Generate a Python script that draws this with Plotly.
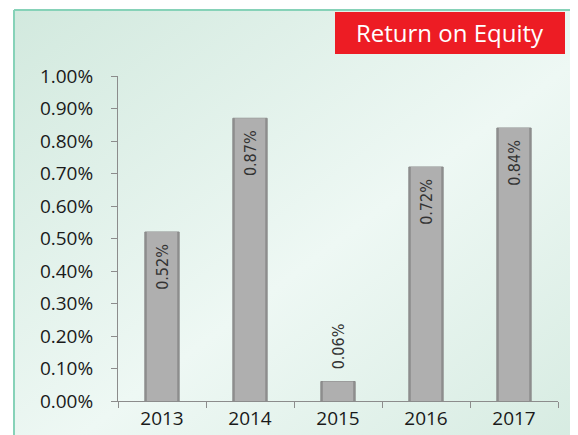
import base64
import plotly.graph_objects as go

years = ["2013", "2014", "2015", "2016", "2017"]
roe = [0.52, 0.87, 0.06, 0.72, 0.84]
labels = ["0.52%", "0.87%", "0.06%", "0.72%", "0.84%"]
label_pos = ["inside", "inside", "outside", "inside", "inside"]
ytick_vals = [0.0, 0.1, 0.2, 0.3, 0.4, 0.5, 0.6, 0.7, 0.8, 0.9, 1.0]
ytick_text = ["%.2f%%" % v for v in ytick_vals]
title_text = "Return on Equity"

OFF = 8  # page body margin
W, H = 570, 427
L, R, T, B = 110, 20, 68, 34
pw, ph = W - L - R, H - T - B


def px(x):  # window x -> paper
    return (x - OFF - L) / pw


def py(y):  # window y -> paper
    return (H - B - (y - OFF)) / ph


svg = (
    '<svg xmlns="http://www.w3.org/2000/svg" width="578" height="435">'
    '<defs><linearGradient id="g" x1="0" y1="0" x2="1" y2="1">'
    '<stop offset="0" stop-color="#d2e9de"/>'
    '<stop offset="0.55" stop-color="#eef8f4"/>'
    '<stop offset="1" stop-color="#d6ebe1"/>'
    '</linearGradient></defs>'
    '<rect width="578" height="435" fill="url(#g)"/></svg>'
)
src = "data:image/svg+xml;base64," + base64.b64encode(svg.encode()).decode()

lab_font = dict(family="DejaVu Sans Condensed, DejaVu Sans", size=16, color="#333333")
NB = "\u00a0\u00a0"
shown = [(t + NB) if p == "inside" else (NB + t) for t, p in zip(labels, label_pos)]

fig = go.Figure()
fig.add_trace(go.Bar(
    x=years, y=roe, width=0.39,
    marker=dict(color="#8f8f8f", line=dict(color="#8a8a8a", width=1)),
    hoverinfo="skip",
))
fig.add_trace(go.Bar(
    x=years, y=roe, width=0.345,
    marker=dict(color="#afafaf", line=dict(width=0)),
    text=shown, textposition=label_pos, textangle=-90,
    insidetextanchor="end", constraintext="none", cliponaxis=False,
    textfont=lab_font, insidetextfont=lab_font, outsidetextfont=lab_font,
    hoverinfo="skip",
))

fig.update_layout(
    width=W, height=H,
    margin=dict(l=L, r=R, t=T, b=B, pad=0, autoexpand=False),
    paper_bgcolor="white", plot_bgcolor="rgba(0,0,0,0)",
    barmode="overlay", showlegend=False,
    font=dict(family="Open Sans", size=18, color="#1a1a1a"),
    xaxis=dict(
        automargin=False,
        showline=True, linecolor="#8c8c8c", linewidth=1,
        ticks="outside", tickson="boundaries", ticklen=6, tickcolor="#8c8c8c",
        showgrid=False, tickfont=dict(family="Open Sans", size=19, color="#1a1a1a"),
    ),
    yaxis=dict(
        automargin=False,
        range=[0, 1.0], tickvals=ytick_vals, ticktext=ytick_text,
        showline=True, linecolor="#8c8c8c", linewidth=1,
        ticks="outside", ticklen=6, tickcolor="#8c8c8c", ticklabelstandoff=14,
        showgrid=False, zeroline=False,
        tickfont=dict(family="Open Sans", size=19, color="#1a1a1a"),
    ),
    images=[dict(source=src, xref="paper", yref="paper",
                 x=px(14), y=py(10), sizex=px(586) - px(14), sizey=py(10) - py(443),
                 xanchor="left", yanchor="top", sizing="stretch", layer="below")],
    shapes=[
        dict(type="line", xref="paper", yref="paper", x0=px(14), x1=px(14),
             y0=py(445), y1=py(10), line=dict(color="#86d2b8", width=2)),
        dict(type="line", xref="paper", yref="paper", x0=px(14), x1=px(590),
             y0=py(10), y1=py(10), line=dict(color="#86d2b8", width=2)),
        dict(type="rect", xref="paper", yref="paper", x0=px(335), x1=px(565),
             y0=py(54), y1=py(12), fillcolor="#ed1c24", line=dict(width=0)),
    ],
    annotations=[dict(text=title_text, xref="paper", yref="paper",
                      x=(px(335) + px(565)) / 2, y=(py(54) + py(12)) / 2,
                      xanchor="center", yanchor="middle", showarrow=False,
                      font=dict(family="Open Sans", size=24, color="white"))],
)

fig.write_html("out.html")
